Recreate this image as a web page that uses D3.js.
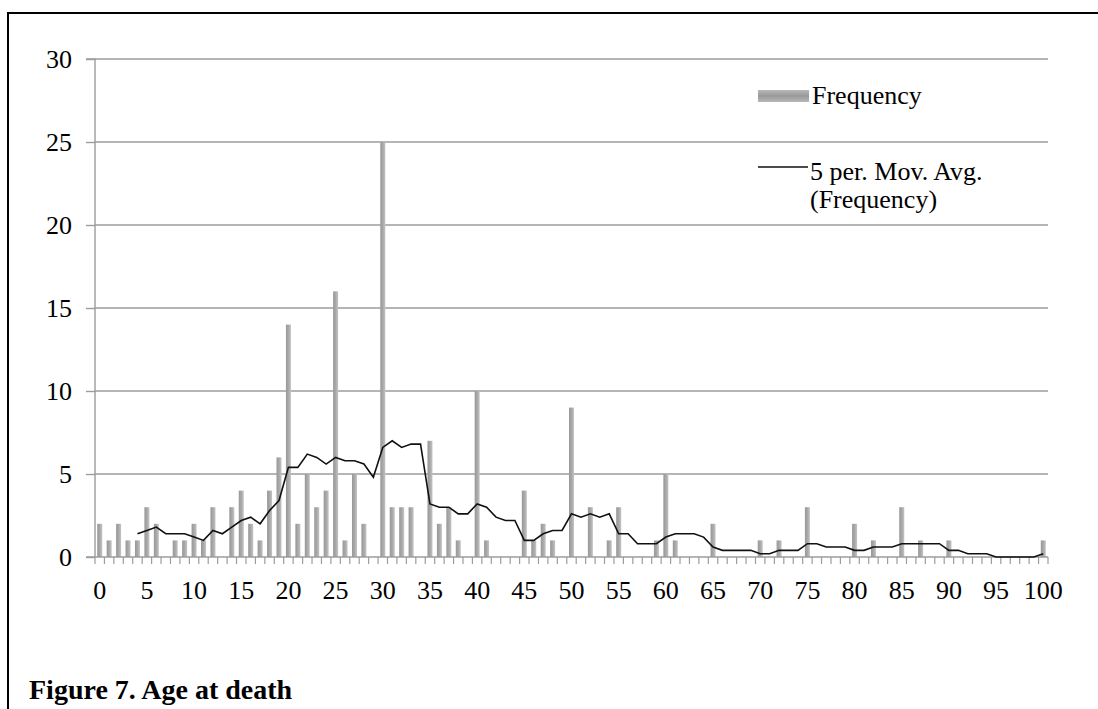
<!DOCTYPE html>
<html>
<head>
<meta charset="utf-8">
<script src="https://cdn.jsdelivr.net/npm/d3@7"></script>
<style>
  html, body { margin: 0; padding: 0; background: #fff; }
  svg { display: block; }
  text { font-family: "Liberation Serif", "Times New Roman", serif; fill: #000; }
</style>
</head>
<body>
<svg id="chart" width="1098" height="709"></svg>
<script>
// ---- data ----
const ages = d3.range(0, 101); // categories 0..100
const frequency = [
  2,1,2,1,1,3,2,0,1,1,
  2,1,3,0,3,4,2,1,4,6,
  14,2,5,3,4,16,1,5,2,0,
  25,3,3,3,0,7,2,3,1,0,
  10,1,0,0,0,4,1,2,1,0,
  9,0,3,0,1,3,0,0,0,1,
  5,1,0,0,0,2,0,0,0,0,
  1,0,1,0,0,3,0,0,0,0,
  2,0,1,0,0,3,0,1,0,0,
  1,0,0,0,0,0,0,0,0,0,
  1
];
// 5 per. moving average (starts at age 4)
const movAvg = [
  null,null,null,null,1.4,1.6,1.8,1.4,1.4,1.4,
  1.2,1.0,1.6,1.4,1.8,2.2,2.4,2.0,2.8,3.4,
  5.4,5.4,6.2,6.0,5.6,6.0,5.8,5.8,5.6,4.8,
  6.6,7.0,6.6,6.8,6.8,3.2,3.0,3.0,2.6,2.6,
  3.2,3.0,2.4,2.2,2.2,1.0,1.0,1.4,1.6,1.6,
  2.6,2.4,2.6,2.4,2.6,1.4,1.4,0.8,0.8,0.8,
  1.2,1.4,1.4,1.4,1.2,0.6,0.4,0.4,0.4,0.4,
  0.2,0.2,0.4,0.4,0.4,0.8,0.8,0.6,0.6,0.6,
  0.4,0.4,0.6,0.6,0.6,0.8,0.8,0.8,0.8,0.8,
  0.4,0.4,0.2,0.2,0.2,0,0,0,0,0,
  0.2
];
const yTicks = [0,5,10,15,20,25,30];
const xLabelAges = [0,5,10,15,20,25,30,35,40,45,50,55,60,65,70,75,80,85,90,95,100];
const legendLabels = ["Frequency", "5 per. Mov. Avg.", "(Frequency)"];
const caption = "Figure 7. Age at death";

// ---- layout ----
const svg = d3.select("#chart");
const plotL = 95, plotR = 1048, plotT = 59, plotB = 557;
const gridColor = "#9c9c9c";

// outer border (cropped on the right and bottom)
svg.append("rect")
  .attr("x", 8).attr("y", 13)
  .attr("width", 1200).attr("height", 800)
  .attr("fill", "none").attr("stroke", "#000").attr("stroke-width", 2);

const x = d3.scaleBand().domain(ages).range([plotL, plotR]).paddingInner(0.47).paddingOuter(0.235);
const xEdge = d3.scaleLinear().domain([0, ages.length]).range([plotL, plotR]);
const y = d3.scaleLinear().domain([0, 30]).range([plotB, plotT]);

// gradients
const defs = svg.append("defs");
const grad = defs.append("linearGradient").attr("id", "barGrad").attr("x1", "0").attr("x2", "1").attr("y1", "0").attr("y2", "0");
grad.append("stop").attr("offset", "0%").attr("stop-color", "#989898");
grad.append("stop").attr("offset", "50%").attr("stop-color", "#a8a8a8");
grad.append("stop").attr("offset", "100%").attr("stop-color", "#c4c4c4");
const lgGrad = defs.append("linearGradient").attr("id", "legGrad").attr("x1", "0").attr("x2", "0").attr("y1", "0").attr("y2", "1");
lgGrad.append("stop").attr("offset", "0%").attr("stop-color", "#b8b8b8");
lgGrad.append("stop").attr("offset", "50%").attr("stop-color", "#999999");
lgGrad.append("stop").attr("offset", "100%").attr("stop-color", "#b8b8b8");

// gridlines
svg.append("g").selectAll("line").data(yTicks.filter(d => d > 0)).join("line")
  .attr("x1", plotL).attr("x2", plotR)
  .attr("y1", d => y(d)).attr("y2", d => y(d))
  .attr("stroke", gridColor).attr("stroke-width", 1.4);

// y axis
const yAxis = d3.axisLeft(y).tickValues(yTicks).tickSize(9).tickPadding(14).tickFormat(d3.format("d"));
const gy = svg.append("g").attr("transform", `translate(${plotL},0)`).call(yAxis);
gy.select(".domain").attr("stroke", gridColor).attr("stroke-width", 1.4).attr("d", `M-9,${plotT}H0V${plotB}`);
gy.selectAll(".tick line").attr("stroke", gridColor).attr("stroke-width", 1.4);
gy.selectAll(".tick text").attr("font-size", 26).attr("font-family", "Liberation Serif").attr("fill", "#000");

// bars
svg.append("g").selectAll("rect").data(ages.filter(a => frequency[a] > 0)).join("rect")
  .attr("x", a => x(a))
  .attr("width", x.bandwidth())
  .attr("y", a => y(frequency[a]))
  .attr("height", a => y(0) - y(frequency[a]))
  .attr("fill", "url(#barGrad)");

// x axis line + boundary ticks
const gx = svg.append("g");
gx.append("line").attr("x1", plotL - 9).attr("x2", plotR).attr("y1", plotB).attr("y2", plotB)
  .attr("stroke", gridColor).attr("stroke-width", 1.4);
gx.selectAll("line.tk").data(d3.range(0, ages.length + 1)).join("line").attr("class", "tk")
  .attr("x1", i => xEdge(i)).attr("x2", i => xEdge(i))
  .attr("y1", plotB).attr("y2", plotB + 7)
  .attr("stroke", gridColor).attr("stroke-width", 1.2);
gx.selectAll("text").data(xLabelAges).join("text")
  .attr("x", a => x(a) + x.bandwidth() / 2)
  .attr("y", 599)
  .attr("text-anchor", "middle")
  .attr("font-size", 26)
  .text(a => a);

// moving average line
const maLine = d3.line()
  .defined(a => movAvg[a] !== null)
  .x(a => x(a) + x.bandwidth() / 2)
  .y(a => y(movAvg[a]));
svg.append("path").datum(ages).attr("d", maLine)
  .attr("fill", "none").attr("stroke", "#111").attr("stroke-width", 1.6);

// legend
const lg = svg.append("g");
lg.append("rect").attr("x", 758).attr("y", 90).attr("width", 51).attr("height", 12).attr("fill", "url(#legGrad)");
lg.append("text").attr("x", 812).attr("y", 104).attr("font-size", 26).text(legendLabels[0]);
lg.append("line").attr("x1", 758).attr("x2", 808).attr("y1", 167).attr("y2", 167)
  .attr("stroke", "#111").attr("stroke-width", 1.6);
lg.append("text").attr("x", 810).attr("y", 180).attr("font-size", 26).text(legendLabels[1]);
lg.append("text").attr("x", 810).attr("y", 208).attr("font-size", 26).text(legendLabels[2]);

// caption
svg.append("text").attr("x", 29).attr("y", 699)
  .attr("font-size", 28).attr("font-weight", "bold").text(caption);
</script>
</body>
</html>
